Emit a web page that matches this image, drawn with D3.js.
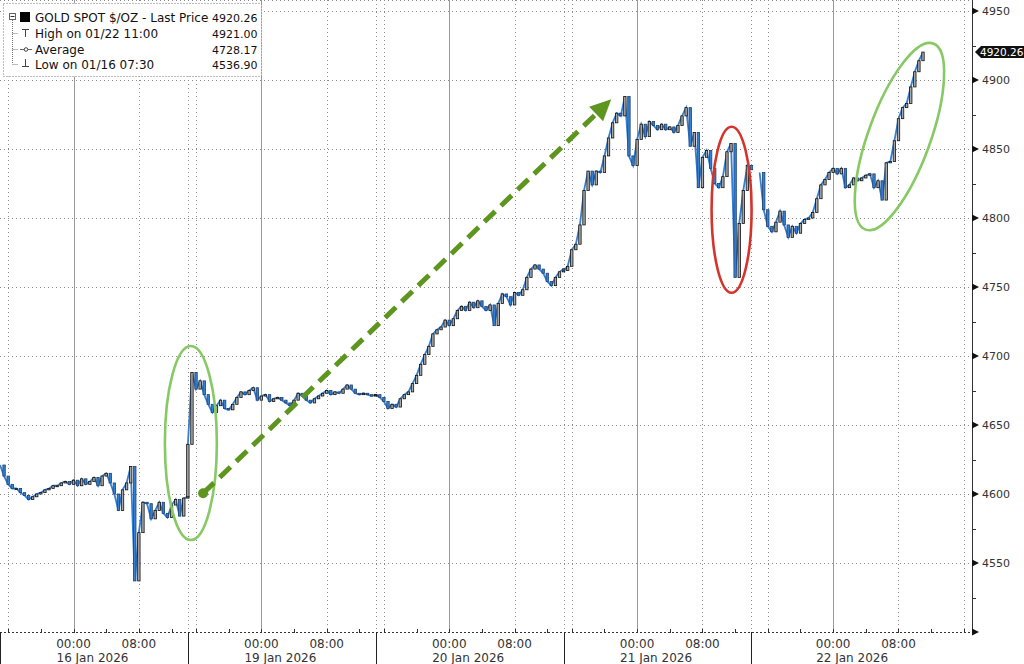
<!DOCTYPE html>
<html>
<head>
<meta charset="utf-8">
<script src="https://cdn.jsdelivr.net/npm/d3@7"></script>
<style>
html, body { margin: 0; padding: 0; background: #fff; }
svg { display: block; font-family: "DejaVu Sans", sans-serif; }
</style>
</head>
<body>
<svg id="chart" width="1024" height="664"></svg>
<script>
const width = 1024;
const height = 664;
const plot = { left: 0, right: 972, top: 0, bottom: 632 };

// trading sessions (local time), one per labelled day
const sessionSpans = [
	["2026-01-15 15:00", "2026-01-16 14:00"],
	["2026-01-18 15:00", "2026-01-19 14:00"],
	["2026-01-19 15:00", "2026-01-20 14:00"],
	["2026-01-20 15:00", "2026-01-21 14:00"],
	["2026-01-21 14:00", "2026-01-22 17:00"]
];
const dayLabels = ["16 Jan 2026", "19 Jan 2026", "20 Jan 2026", "21 Jan 2026", "22 Jan 2026"];

// gold spot, 30 minute closes from each session start
const stepMinutes = 30;
const jan16 = [4621, 4613, 4607, 4604, 4604, 4601, 4599, 4596, 4598, 4600, 4601, 4603, 4604, 4606, 4606, 4608,
	4609, 4607, 4610, 4606, 4611, 4607, 4609, 4612, 4606, 4613, 4615, 4608, 4600, 4588, 4603, 4608, 4620, 4537,
	4572, 4594, 4593, 4582, 4588, 4594, 4586, 4583, 4592, 4596, 4584, 4597, 4598];
const jan19 = [4636, 4688, 4676, 4682, 4672, 4665, 4659, 4664, 4668, 4662, 4661, 4665, 4670, 4674, 4672, 4675,
	4677, 4668, 4671, 4672, 4667, 4669, 4670, 4668, 4666, 4664, 4668, 4673, 4671, 4668, 4666, 4669, 4671, 4673,
	4675, 4672, 4674, 4673, 4676, 4679, 4676, 4673, 4672, 4673, 4672, 4671, 4672];
const jan20 = [4672, 4670, 4667, 4662, 4665, 4663, 4669, 4672, 4674, 4680, 4686, 4694, 4701, 4707, 4716, 4719,
	4721, 4726, 4722, 4727, 4733, 4736, 4733, 4739, 4735, 4740, 4736, 4733, 4737, 4722, 4738, 4745, 4743, 4737,
	4746, 4744, 4748, 4757, 4763, 4766, 4763, 4760, 4754, 4751, 4757, 4761, 4763];
const jan21 = [4762, 4765, 4777, 4781, 4795, 4820, 4834, 4824, 4834, 4833, 4845, 4858, 4869, 4876, 4874, 4888,
	4845, 4838, 4857, 4868, 4859, 4870, 4867, 4864, 4868, 4864, 4866, 4862, 4867, 4874, 4880, 4852, 4862, 4822,
	4844, 4849, 4836, 4825, 4822, 4830, 4848, 4854, 4757, 4796, 4820, 4838, 4835];
const jan22 = [null, null, 4833, 4806, 4794, 4790, 4797, 4805, 4795, 4786, 4794, 4789, 4796, 4799, 4800, 4804,
	4814, 4824, 4828, 4833, 4836, 4832, 4836, 4822, 4824, 4829, 4827, 4829, 4831, 4832, 4822, 4827, 4813, 4840,
	4841, 4856, 4872, 4880, 4883, 4895, 4906, 4914, 4920.26];
const sessionPrices = [jan16, jan19, jan20, jan21, jan22];

const yTicks = [4550, 4600, 4650, 4700, 4750, 4800, 4850, 4900, 4950];
const yMinorTicks = [4525, 4575, 4625, 4675, 4725, 4775, 4825, 4875, 4925];
const lastPrice = 4920.26;

const legendLabels = ["GOLD SPOT $/OZ - Last Price", "High on 01/22 11:00", "Average", "Low on 01/16 07:30"];
const legendValues = ["4920.26", "4921.00", "4728.17", "4536.90"];

// hand drawn marks on the chart, in time / price units
const ellipseNotes = [
	{ t: "2026-01-18 15:22", p: 4637, rx: 26, ry: 97, rot: 0, color: "#86c965" },
	{ t: "2026-01-21 11:34", p: 4806, rx: 20, ry: 83, rot: 0, color: "#d4342c" },
	{ t: "2026-01-22 08:07", p: 4859, rx: 31, ry: 99, rot: 20, color: "#86c965" }
];
const arrowNote = { from: ["2026-01-18 16:52", 4600.5], to: ["2026-01-20 20:50", 4886], color: "#5d951f" };

const parse = d3.timeParse("%Y-%m-%d %H:%M");
const spans = sessionSpans.map(([a, b]) => [parse(a), parse(b)]);
const HOUR = 3.6e6;

function tradeHours(t) {
	let acc = 0;
	for (const [a, b] of spans) {
		if (t <= b) return acc + Math.max(0, t - a) / HOUR;
		acc += (b - a) / HOUR;
	}
	return acc;
}
const totalHours = tradeHours(spans[spans.length - 1][1]);

const x = d3.scaleLinear().domain([0, totalHours]).range([plot.left, plot.right]);
const xt = (t) => x(tradeHours(t));
const y = d3.scaleLinear().domain([4500, 4958]).range([plot.bottom, plot.top]);

const svg = d3.select("#chart");

// grid
const grid = svg.append("g");
grid.selectAll("line.h")
	.data(yTicks)
	.enter()
	.append("line")
	.attr("x1", plot.left)
	.attr("x2", plot.right)
	.attr("y1", (d) => Math.round(y(d)) + 0.5)
	.attr("y2", (d) => Math.round(y(d)) + 0.5)
	.attr("stroke", "#8a8a8a")
	.attr("stroke-dasharray", "1,3");
grid.append("line")
	.attr("x1", plot.left).attr("x2", plot.right)
	.attr("y1", 0.5).attr("y2", 0.5)
	.attr("stroke", "#8a8a8a")
	.attr("stroke-dasharray", "1,3");

// 4h ticks inside sessions
const tickTimes = [];
spans.forEach(([a, b], si) => {
	d3.timeHour.every(4).range(a, b).forEach((t) => tickTimes.push({ t, si }));
});

grid.selectAll("line.v")
	.data(tickTimes.filter((d) => d.t.getHours() % 8 === 0))
	.enter()
	.append("line")
	.attr("x1", (d) => Math.round(xt(d.t)) + 0.5)
	.attr("x2", (d) => Math.round(xt(d.t)) + 0.5)
	.attr("y1", plot.top)
	.attr("y2", plot.bottom)
	.attr("stroke", (d) => (d.t.getHours() === 0 ? "#9a9a9a" : "#8a8a8a"))
	.attr("stroke-dasharray", (d) => (d.t.getHours() === 0 ? null : "1,3"));

grid.selectAll("line.sess")
	.data(spans.slice(1))
	.enter()
	.append("line")
	.attr("x1", (d) => Math.round(xt(d[0])) + 0.5)
	.attr("x2", (d) => Math.round(xt(d[0])) + 0.5)
	.attr("y1", plot.top)
	.attr("y2", plot.bottom)
	.attr("stroke", "#8a8a8a")
	.attr("stroke-dasharray", "1,3");

// price series
const points = [];
sessionPrices.forEach((vals, si) => {
	vals.forEach((p, i) => {
		points.push({ t: d3.timeMinute.offset(spans[si][0], i * stepMinutes), p });
	});
});

const line = d3.line()
	.defined((d) => d.p != null)
	.x((d) => xt(d.t))
	.y((d) => y(d.p));

svg.append("path")
	.datum(points)
	.attr("d", line)
	.attr("fill", "none")
	.attr("stroke", "#3580d4")
	.attr("stroke-width", 1.8);

const candles = [];
for (let i = 1; i < points.length; i++) {
	if (points[i].p == null || points[i - 1].p == null) continue;
	candles.push({ t: points[i].t, open: points[i - 1].p, close: points[i].p });
}

svg.append("g")
	.selectAll("rect")
	.data(candles)
	.enter()
	.append("rect")
	.attr("x", (d) => xt(d.t) - 1.2)
	.attr("width", 2.4)
	.attr("y", (d) => y(Math.max(d.open, d.close)))
	.attr("height", (d) => Math.max(1, Math.abs(y(d.open) - y(d.close))))
	.attr("fill", (d) => (d.close >= d.open ? "#a8a8a8" : "#3580d4"))
	.attr("stroke", (d) => (d.close >= d.open ? "#111" : "#1c4274"))
	.attr("stroke-width", 0.8);

// annotations
const notes = svg.append("g");
ellipseNotes.forEach((n) => {
	const cx = xt(parse(n.t));
	const cy = y(n.p);
	notes.append("ellipse")
		.attr("cx", 0).attr("cy", 0)
		.attr("rx", n.rx).attr("ry", n.ry)
		.attr("transform", `translate(${cx},${cy}) rotate(${n.rot})`)
		.attr("fill", "none")
		.attr("stroke", n.color)
		.attr("stroke-width", 2.6);
});

const ax = xt(parse(arrowNote.from[0]));
const ay = y(arrowNote.from[1]);
const bx = xt(parse(arrowNote.to[0]));
const by = y(arrowNote.to[1]);
const ang = Math.atan2(by - ay, bx - ax);
const headLen = 21;
const headHalf = 10;
const baseX = bx - headLen * Math.cos(ang);
const baseY = by - headLen * Math.sin(ang);

notes.append("line")
	.attr("x1", ax).attr("y1", ay)
	.attr("x2", baseX + 2 * Math.cos(ang)).attr("y2", baseY + 2 * Math.sin(ang))
	.attr("stroke", arrowNote.color)
	.attr("stroke-width", 5)
	.attr("stroke-dasharray", "15,8");
notes.append("circle")
	.attr("cx", ax).attr("cy", ay).attr("r", 5)
	.attr("fill", arrowNote.color);
notes.append("path")
	.attr("d", `M${bx},${by}L${baseX - headHalf * Math.sin(ang)},${baseY + headHalf * Math.cos(ang)}L${baseX + headHalf * Math.sin(ang)},${baseY - headHalf * Math.cos(ang)}Z`)
	.attr("fill", arrowNote.color);

// right axis
const yAxis = svg.append("g");
yAxis.append("line")
	.attr("x1", plot.right + 0.5).attr("x2", plot.right + 0.5)
	.attr("y1", plot.top).attr("y2", plot.bottom)
	.attr("stroke", "#333");
yAxis.selectAll("path.tri")
	.data(yTicks.concat([4500]))
	.enter()
	.append("path")
	.attr("d", (d) => `M${plot.right},${y(d) - 3.5}L${plot.right + 7},${y(d)}L${plot.right},${y(d) + 3.5}Z`)
	.attr("fill", "#111");
yAxis.selectAll("line.minor")
	.data(yMinorTicks)
	.enter()
	.append("line")
	.attr("x1", plot.right).attr("x2", plot.right + 4)
	.attr("y1", (d) => Math.round(y(d)) + 0.5)
	.attr("y2", (d) => Math.round(y(d)) + 0.5)
	.attr("stroke", "#333");
yAxis.selectAll("text")
	.data(yTicks)
	.enter()
	.append("text")
	.attr("x", plot.right + 10)
	.attr("y", (d) => y(d) + 4)
	.attr("font-size", 11)
	.attr("fill", "#333")
	.text((d) => d);

// last price tag
const ly = y(lastPrice);
svg.append("path")
	.attr("d", `M${plot.right + 3},${ly}L${plot.right + 9},${ly - 6}L${width},${ly - 6}L${width},${ly + 6}L${plot.right + 9},${ly + 6}Z`)
	.attr("fill", "#111");
svg.append("text")
	.attr("x", plot.right + 8)
	.attr("y", ly + 4)
	.attr("font-size", 10.5)
	.attr("fill", "#fff")
	.text(lastPrice.toFixed(2));

// bottom axis
const xAxis = svg.append("g");
xAxis.append("line")
	.attr("x1", plot.left).attr("x2", plot.right)
	.attr("y1", plot.bottom + 0.5).attr("y2", plot.bottom + 0.5)
	.attr("stroke", "#333")
	.attr("stroke-dasharray", "2,2");
xAxis.selectAll("line.tick")
	.data(tickTimes)
	.enter()
	.append("line")
	.attr("x1", (d) => Math.round(xt(d.t)) + 0.5)
	.attr("x2", (d) => Math.round(xt(d.t)) + 0.5)
	.attr("y1", plot.bottom - 3)
	.attr("y2", plot.bottom + 1)
	.attr("stroke", "#333");
xAxis.selectAll("line.sep")
	.data(spans)
	.enter()
	.append("line")
	.attr("x1", (d) => Math.max(0.5, Math.round(xt(d[0])) + 0.5))
	.attr("x2", (d) => Math.max(0.5, Math.round(xt(d[0])) + 0.5))
	.attr("y1", plot.bottom)
	.attr("y2", height)
	.attr("stroke", "#222");

const hourLabels = tickTimes.filter((d) => d.t.getHours() === 0 || d.t.getHours() === 8);
xAxis.selectAll("text.hour")
	.data(hourLabels)
	.enter()
	.append("text")
	.attr("x", (d) => xt(d.t))
	.attr("y", 648)
	.attr("text-anchor", "middle")
	.attr("font-size", 12)
	.attr("fill", "#333")
	.text((d) => d3.timeFormat("%H:%M")(d.t));

const midnights = tickTimes.filter((d) => d.t.getHours() === 0);
xAxis.selectAll("text.day")
	.data(midnights)
	.enter()
	.append("text")
	.attr("x", (d) => xt(d.t) - 17)
	.attr("y", 662)
	.attr("font-size", 12)
	.attr("fill", "#333")
	.text((d, i) => dayLabels[i]);

// legend
const legend = svg.append("g");
legend.append("rect")
	.attr("x", 3.5).attr("y", 3.5)
	.attr("width", 258).attr("height", 73)
	.attr("fill", "#fff")
	.attr("stroke", "#777")
	.attr("stroke-dasharray", "1,2");
const rowY = [22, 38, 53.5, 69];
legend.selectAll("text.label")
	.data(legendLabels)
	.enter()
	.append("text")
	.attr("x", 35)
	.attr("y", (d, i) => rowY[i])
	.attr("font-size", 12)
	.attr("fill", "#111")
	.text((d) => d);
legend.selectAll("text.value")
	.data(legendValues)
	.enter()
	.append("text")
	.attr("x", 257.5)
	.attr("y", (d, i) => rowY[i])
	.attr("text-anchor", "end")
	.attr("font-size", 11)
	.attr("fill", "#111")
	.text((d) => d);

// tree and icons
legend.append("rect")
	.attr("x", 9.5).attr("y", 13.5).attr("width", 6).attr("height", 6)
	.attr("fill", "#fff").attr("stroke", "#666");
legend.append("line")
	.attr("x1", 10.5).attr("x2", 14.5).attr("y1", 16.5).attr("y2", 16.5)
	.attr("stroke", "#333");
legend.append("rect")
	.attr("x", 20).attr("y", 12).attr("width", 10).attr("height", 10)
	.attr("fill", "#000");
legend.append("line")
	.attr("x1", 12.5).attr("x2", 12.5).attr("y1", 20).attr("y2", 64)
	.attr("stroke", "#777").attr("stroke-dasharray", "1,1");
[33, 49, 64].forEach((by2) => {
	legend.append("line")
		.attr("x1", 12.5).attr("x2", 18).attr("y1", by2 + 0.5).attr("y2", by2 + 0.5)
		.attr("stroke", "#777").attr("stroke-dasharray", "1,1");
});
legend.append("path")
	.attr("d", "M22,29.5H29M25.5,29.5V37")
	.attr("stroke", "#444").attr("fill", "none");
legend.append("path")
	.attr("d", "M20,49.5H32")
	.attr("stroke", "#666").attr("fill", "none");
legend.append("circle")
	.attr("cx", 26).attr("cy", 49.5).attr("r", 1.8)
	.attr("fill", "#fff").attr("stroke", "#444");
legend.append("path")
	.attr("d", "M25.5,59V66.5M22,66.5H29")
	.attr("stroke", "#444").attr("fill", "none");
</script>
</body>
</html>
